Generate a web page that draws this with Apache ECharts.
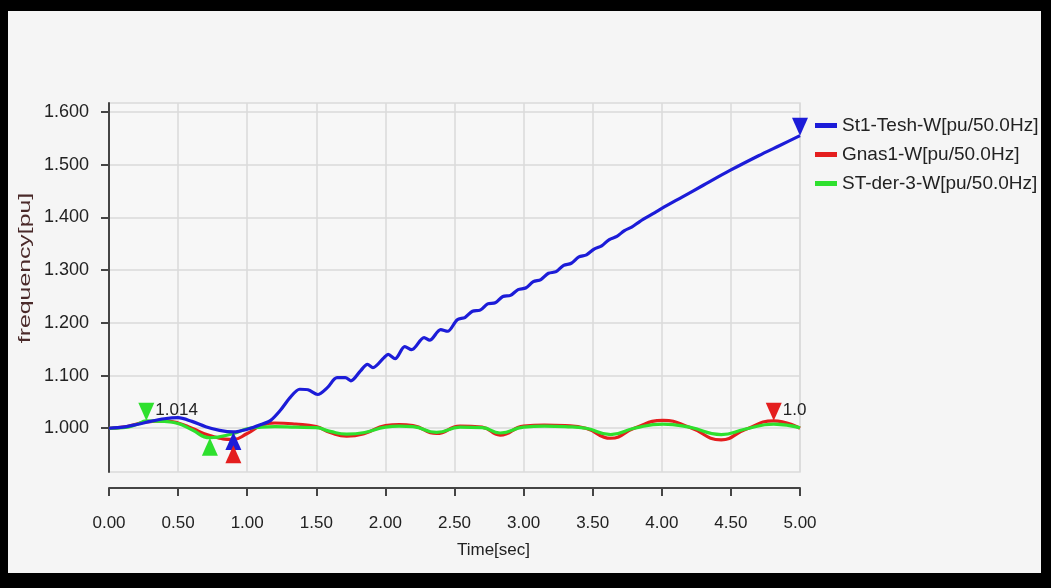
<!DOCTYPE html>
<html>
<head>
<meta charset="utf-8">
<script src="https://cdn.jsdelivr.net/npm/echarts@6/dist/echarts.min.js"></script>
<style>
  html, body { margin: 0; padding: 0; background: #000; }
  #chart { width: 1051px; height: 588px; }
</style>
</head>
<body>
<div id="chart"></div>
<script>
// Speed traces of three machines, time in seconds, frequency in p.u. of 50 Hz
const seriesNames = ['St1-Tesh-W[pu/50.0Hz]', 'Gnas1-W[pu/50.0Hz]', 'ST-der-3-W[pu/50.0Hz]'];

// St1-Tesh: sample times and values
const timeTesh = [0, 0.1, 0.2, 0.3, 0.4, 0.5, 0.6, 0.7, 0.8, 0.9, 1.0, 1.1, 1.17, 1.24, 1.31, 1.38, 1.44, 1.51,
  1.58, 1.65, 1.71, 1.75, 1.82, 1.87, 1.91, 1.99, 2.02, 2.07, 2.14, 2.19, 2.28, 2.32, 2.40, 2.45,
  2.52, 2.575, 2.63, 2.685, 2.74, 2.795, 2.85, 2.905, 2.96, 3.015, 3.07, 3.125, 3.18, 3.235, 3.29, 3.345,
  3.40, 3.455, 3.51, 3.565, 3.62, 3.675, 3.73, 3.785, 3.84, 3.95, 4.0, 4.15, 4.3, 4.5, 4.7, 4.85, 5.0];
const st1Tesh = [1.000, 1.002, 1.007, 1.013, 1.018, 1.020, 1.013, 1.003, 0.996, 0.993, 0.998, 1.007, 1.015, 1.034,
  1.058, 1.074, 1.073, 1.064, 1.077, 1.096, 1.096, 1.090, 1.109, 1.121, 1.115, 1.134, 1.140, 1.132, 1.155, 1.149,
  1.172, 1.167, 1.187, 1.184,
  1.206, 1.210, 1.222, 1.224, 1.236, 1.238, 1.250, 1.252, 1.263, 1.266, 1.278, 1.282, 1.294, 1.297, 1.309, 1.313,
  1.325, 1.329, 1.340, 1.346, 1.358, 1.364, 1.375, 1.382, 1.392, 1.409, 1.417, 1.439, 1.461, 1.490, 1.517, 1.536,
  1.555];

// Gnas1 and ST-der-3 share the same sample times
const timeGen = [0, 0.1, 0.2, 0.27, 0.4, 0.5, 0.6, 0.73, 0.9, 1.0, 1.1, 1.2, 1.35, 1.5, 1.6, 1.72, 1.85, 2.0, 2.1,
  2.2, 2.37, 2.54, 2.7, 2.83, 3.0, 3.15, 3.3, 3.45, 3.63, 3.8, 4.01, 4.2, 4.43, 4.6, 4.81, 5.0];
const gnas1 = [1.000, 1.002, 1.008, 1.012, 1.014, 1.010, 1.000, 0.986, 0.979, 0.990, 1.005, 1.010, 1.008, 1.003,
  0.992, 0.985, 0.990, 1.005, 1.007, 1.005, 0.990, 1.004, 1.002, 0.987, 1.004, 1.006, 1.005, 1.000, 0.981, 1.000,
  1.015, 1.002, 0.978, 0.997, 1.014, 1.000];
const stDer3 = [1.000, 1.001, 1.007, 1.014, 1.013, 1.009, 0.997, 0.982, 0.990, 0.999, 1.002, 1.003, 1.002, 1.001,
  0.994, 0.989, 0.992, 1.002, 1.004, 1.003, 0.992, 1.002, 1.001, 0.991, 1.002, 1.004, 1.003, 1.000, 0.988, 1.000,
  1.008, 1.002, 0.988, 0.998, 1.008, 1.001];

// Extreme-value markers: [time, value]
const teshMax = [5.0, 1.555];
const teshMin = [0.9, 0.993];
const gnasMax = [4.81, 1.014];
const gnasMin = [0.9, 0.979];
const derMax = [0.27, 1.014];
const derMin = [0.73, 0.982];

// Axis ticks
const yTicks = [1.0, 1.1, 1.2, 1.3, 1.4, 1.5, 1.6];
const xMin = 0, xMax = 5, xStep = 0.5;

const colors = ['#1c1cd8', '#e41e1e', '#2ee02e'];
const font = 'Liberation Sans, Arial, sans-serif';

function pairs(t, v) { return t.map((x, i) => [x, v[i]]); }

function upMarker(pt, color, extra) {
  return { coord: pt, symbol: 'triangle', symbolSize: [16, 18], symbolOffset: [0, 9 + (extra || 0)],
    itemStyle: { color: color }, label: { show: false } };
}
function downMarker(pt, color, labelWidth) {
  return { coord: pt, symbol: 'triangle', symbolRotate: 180, symbolSize: [16, 18], symbolOffset: [0, -9],
    itemStyle: { color: color },
    label: labelWidth ? { show: true, position: 'right', distance: 1, offset: [0, -2],
      formatter: pt[1].toFixed(3), color: '#222', fontSize: 17, fontFamily: font,
      width: labelWidth, overflow: 'truncate', ellipsis: '' } : { show: false } };
}

const chart = echarts.init(document.getElementById('chart'), null, { renderer: 'canvas' });

chart.setOption({
  backgroundColor: '#000',
  animation: false,
  graphic: [
    {
      type: 'rect', z: -10, silent: true,
      shape: { x: 8, y: 11, width: 1033, height: 562 },
      style: { fill: '#f5f5f5' }
    },
    {
      // vertical axis title, drawn stretched along its reading direction
      type: 'text', silent: true, x: 26, y: 268, rotation: Math.PI / 2, scaleX: 1.55,
      style: { text: 'frequency[pu]', fontSize: 16, fontFamily: font, fill: '#4a2a2a',
        align: 'center', verticalAlign: 'middle' }
    }
  ],
  grid: {
    left: 109, right: 251, top: 103, bottom: 116,
    show: true, backgroundColor: '#f7f7f7', borderColor: '#dadada', borderWidth: 1.5
  },
  legend: {
    orient: 'vertical', left: 810, top: 111, itemGap: 10,
    itemWidth: 22, itemHeight: 5, icon: 'rect',
    textStyle: { fontSize: 19, color: '#222', fontFamily: font },
    data: seriesNames
  },
  xAxis: {
    type: 'value', min: xMin, max: xMax, interval: xStep,
    offset: 16,
    name: 'Time[sec]', nameLocation: 'middle', nameGap: 54,
    nameTextStyle: { fontSize: 17, color: '#222', fontFamily: font, padding: [0, 0, 0, 78] },
    axisLine: { show: true, lineStyle: { color: '#444', width: 2 } },
    axisTick: { show: true, length: 8, lineStyle: { color: '#444', width: 2 } },
    axisLabel: { margin: 27, fontSize: 17, color: '#222', fontFamily: font,
      formatter: v => v.toFixed(2) },
    splitLine: { show: true, lineStyle: { color: '#dadada', width: 1.5 } }
  },
  yAxis: {
    type: 'value', min: 0.917, max: 1.617,
    offset: 8,
    axisLine: { show: true, lineStyle: { color: '#444', width: 2 } },
    axisTick: { show: true, length: 8, customValues: yTicks, lineStyle: { color: '#444', width: 2 } },
    axisLabel: { margin: 12, fontSize: 18, color: '#222', fontFamily: font, customValues: yTicks,
      formatter: v => v.toFixed(3) },
    splitLine: { show: true, lineStyle: { color: '#dadada', width: 1.5 } }
  },
  series: [
    {
      name: seriesNames[0], type: 'line', data: pairs(timeTesh, st1Tesh), smooth: 0.3,
      showSymbol: false, lineStyle: { color: colors[0], width: 3.2 }, itemStyle: { color: colors[0] }, z: 3,
      markPoint: { z: 10, data: [downMarker(teshMax, colors[0], 0), upMarker(teshMin, colors[0])] }
    },
    {
      name: seriesNames[1], type: 'line', data: pairs(timeGen, gnas1), smooth: 0.5,
      showSymbol: false, lineStyle: { color: colors[1], width: 3.2 }, itemStyle: { color: colors[1] }, z: 2,
      markPoint: { z: 11, data: [downMarker(gnasMax, colors[1], 28), upMarker(gnasMin, colors[1], 6)] }
    },
    {
      name: seriesNames[2], type: 'line', data: pairs(timeGen, stDer3), smooth: 0.5,
      showSymbol: false, lineStyle: { color: colors[2], width: 3.2 }, itemStyle: { color: colors[2] }, z: 2,
      markPoint: { z: 10, data: [downMarker(derMax, colors[2], 60), upMarker(derMin, colors[2])] }
    }
  ]
});
</script>
</body>
</html>
